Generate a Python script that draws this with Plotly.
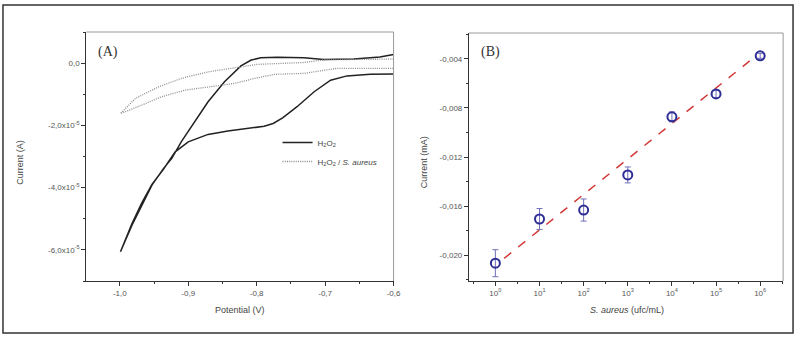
import plotly.graph_objects as go

W, H = 805, 339

# ---------------- Panel A data (Potential V, Current x1e-5 A) ----------------
h2o2_v = [-0.600, -0.620, -0.658, -0.702, -0.731, -0.770, -0.794, -0.799, -0.808,
          -0.823, -0.847, -0.871, -0.890, -0.910, -0.924, -0.936, -0.953, -0.968,
          -0.982, -0.999,
          -0.982, -0.968, -0.953, -0.936, -0.919, -0.900, -0.871, -0.842, -0.813,
          -0.789, -0.776, -0.762, -0.741, -0.716, -0.692, -0.668, -0.634, -0.600]
h2o2_i = [0.28, 0.20, 0.13, 0.12, 0.17, 0.19, 0.17, 0.15, 0.10,
          -0.09, -0.60, -1.24, -1.88, -2.52, -3.06, -3.38, -3.92, -4.56,
          -5.20, -6.06,
          -5.15, -4.50, -3.90, -3.40, -2.85, -2.53, -2.29, -2.18, -2.10,
          -2.03, -1.94, -1.76, -1.40, -0.92, -0.55, -0.41, -0.36, -0.35]

sa_v = [-0.600, -0.650, -0.700, -0.731, -0.770, -0.799, -0.832, -0.871, -0.910,
        -0.943, -0.977, -0.999,
        -0.968, -0.939, -0.905, -0.871, -0.832, -0.803, -0.774, -0.731, -0.683, -0.600]
sa_i = [0.13, 0.12, 0.11, 0.02, -0.01, -0.04, -0.15, -0.28, -0.49,
        -0.76, -1.13, -1.62,
        -1.35, -1.08, -0.87, -0.76, -0.65, -0.49, -0.36, -0.33, -0.17, -0.17]

a_xticks = [-1.0, -0.9, -0.8, -0.7, -0.6]
a_xticklabels = ["-1,0", "-0,9", "-0,8", "-0,7", "-0,6"]
a_yticks = [0, -2, -4, -6]
a_yticklabels = ["0,0", "-2,0x10<sup>-5</sup>", "-4,0x10<sup>-5</sup>", "-6,0x10<sup>-5</sup>"]

# ---------------- Panel B data ----------------
b_log_conc = [0, 1, 2, 3, 4, 5, 6]
b_current = [-0.02065, -0.01705, -0.01632, -0.01346, -0.00873, -0.00686, -0.00376]
b_err = [0.0011, 0.00085, 0.0009, 0.00065, 0.0004, 0.0003, 0.0002]
fit_slope = 0.00289
fit_intercept = -0.02083
fit_x = [0.2, 5.9]
b_xticks = [0, 1, 2, 3, 4, 5, 6]
b_xticklabels = ["10<sup>%d</sup>" % k for k in b_xticks]
b_yticks = [-0.004, -0.008, -0.012, -0.016, -0.020]
b_yticklabels = ["-0,004", "-0,008", "-0,012", "-0,016", "-0,020"]

fit_y = [fit_intercept + fit_slope * x for x in fit_x]

fig = go.Figure()
fig.add_trace(go.Scatter(x=h2o2_v, y=h2o2_i, mode="lines", name="H<sub>2</sub>O<sub>2</sub>",
                         line=dict(color="#222222", width=1.5), xaxis="x", yaxis="y"))
fig.add_trace(go.Scatter(x=sa_v, y=sa_i, mode="lines",
                         name="H<sub>2</sub>O<sub>2</sub> / <i>S. aureus</i>",
                         line=dict(color="#8c8c8c", width=1.3, dash="1px,1.2px"), xaxis="x", yaxis="y"))
fig.add_trace(go.Scatter(x=fit_x, y=fit_y, mode="lines", showlegend=False,
                         line=dict(color="#d23a3a", width=1.5, dash="dash"), xaxis="x2", yaxis="y2"))
fig.add_trace(go.Scatter(x=b_log_conc, y=b_current, mode="markers", showlegend=False,
                         marker=dict(symbol="circle-open", size=9, color="#2e2e96",
                                     line=dict(width=2, color="#2e2e96")),
                         error_y=dict(type="data", array=b_err, color="#7070b8", thickness=1, width=3),
                         xaxis="x2", yaxis="y2"))

tickfont = dict(family="Liberation Sans, Arial, sans-serif", size=8, color="#555555")
common = dict(showgrid=False, zeroline=False, showline=True, linecolor="#333333", linewidth=1,
              ticks="outside", ticklen=4, tickcolor="#333333", tickfont=tickfont, mirror=False)

def px_x(p):
    return p / W

def px_y(p):
    return 1 - p / H

fig.update_layout(
    width=W, height=H, margin=dict(l=0, r=0, t=0, b=0),
    paper_bgcolor="white", plot_bgcolor="white",
    xaxis=dict(domain=[px_x(87), px_x(397)], range=[-1.049, -0.6], anchor="y",
               tickvals=a_xticks, ticktext=a_xticklabels,
               minor=dict(ticks="outside", ticklen=2, dtick=0.05, tick0=-1.0, tickcolor="#333333"),
               **common),
    yaxis=dict(domain=[px_y(281), px_y(32)], range=[-7.0, 1.0], anchor="x",
               tickvals=a_yticks, ticktext=a_yticklabels,
               minor=dict(ticks="outside", ticklen=2, dtick=1, tick0=0, tickcolor="#333333"),
               **common),
    xaxis2=dict(domain=[px_x(473), px_x(790)], range=[-0.6, 6.52], anchor="y2",
                tickvals=b_xticks, ticktext=b_xticklabels,
                minor=dict(ticks="outside", ticklen=2, dtick=0.5, tick0=0, tickcolor="#333333"),
                **common),
    yaxis2=dict(domain=[px_y(281), px_y(33)], range=[-0.0221, -0.0019], anchor="x2",
                tickvals=b_yticks, ticktext=b_yticklabels,
                minor=dict(ticks="outside", ticklen=2, dtick=0.002, tick0=0, tickcolor="#333333"),
                **common),
    legend=dict(x=px_x(280), y=px_y(128), xanchor="left", yanchor="top",
                font=dict(family="Liberation Sans, Arial, sans-serif", size=8, color="#444444"),
                bgcolor="rgba(0,0,0,0)", itemwidth=30, tracegroupgap=0),
)

shapes = [
    dict(type="rect", xref="paper", yref="paper", x0=px_x(3), x1=px_x(800), y0=px_y(333), y1=px_y(5),
         line=dict(color="#333333", width=1.5)),
]
for xr, yr in (("x domain", "y domain"), ("x2 domain", "y2 domain")):
    shapes.append(dict(type="line", xref=xr, yref=yr, x0=0, x1=1, y0=1, y1=1,
                       line=dict(color="#9a9a9a", width=1)))
    shapes.append(dict(type="line", xref=xr, yref=yr, x0=1, x1=1, y0=0, y1=1,
                       line=dict(color="#9a9a9a", width=1)))
fig.update_layout(shapes=shapes)

titlefont = dict(family="Liberation Sans, Arial, sans-serif", size=9, color="#444444")
panelfont = dict(family="Liberation Serif, Times New Roman, serif", size=14, color="#333333")
annotations = [
    dict(text="(A)", x=px_x(97), y=px_y(52), xanchor="left", yanchor="middle", font=panelfont),
    dict(text="(B)", x=px_x(483), y=px_y(52), xanchor="left", yanchor="middle", font=panelfont),
    dict(text="Potential (V)", x=px_x(242), y=px_y(310), xanchor="center", yanchor="middle", font=titlefont),
    dict(text="<i>S. aureus</i> (ufc/mL)", x=px_x(632), y=px_y(310), xanchor="center", yanchor="middle", font=titlefont),
    dict(text="Current (A)", x=px_x(20), y=px_y(162), textangle=-90, xanchor="center", yanchor="middle", font=titlefont),
    dict(text="Current (mA)", x=px_x(428), y=px_y(162), textangle=-90, xanchor="center", yanchor="middle", font=titlefont),
]
for a in annotations:
    a.update(xref="paper", yref="paper", showarrow=False)
fig.update_layout(annotations=annotations)

fig.write_html("out.html", config={"displayModeBar": False},
               post_script="document.body.style.margin='0';document.body.style.overflow='hidden';")
